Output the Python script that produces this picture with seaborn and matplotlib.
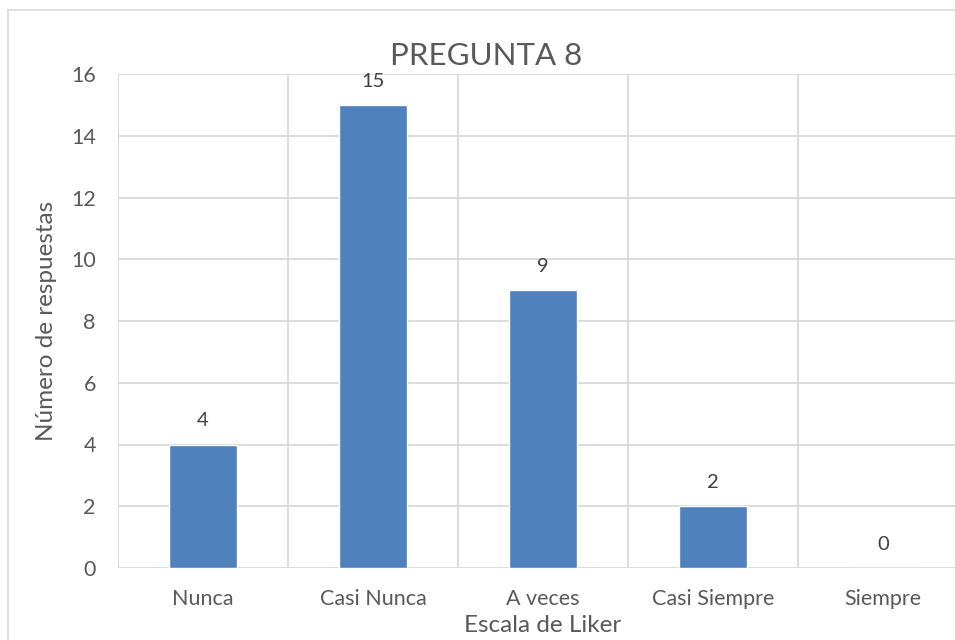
import matplotlib
matplotlib.use("Agg")
import matplotlib.pyplot as plt
from matplotlib.patches import Rectangle
import seaborn as sns
import pandas as pd

categorias = ["Nunca", "Casi Nunca", "A veces", "Casi Siempre", "Siempre"]
respuestas = [4, 15, 9, 2, 0]
y_ticks = [0, 2, 4, 6, 8, 10, 12, 14, 16]

titulo = "PREGUNTA 8"
etiqueta_x = "Escala de Liker"
etiqueta_y = "Número de respuestas"

sns.set_theme(style="white")
plt.rcParams["font.family"] = ["Lato", "DejaVu Sans"]

texto = "#595959"
rejilla = "#d9d9d9"
azul = "#4f81bd"

df = pd.DataFrame({"categoria": categorias, "respuestas": respuestas})

fig = plt.figure(figsize=(9.55, 6.4), dpi=100)
fig.patch.set_facecolor("white")

# chart-area frame
fig.patches.append(Rectangle((8 / 955, -0.1), 1.2, 1.1 - 10 / 640,
                             transform=fig.transFigure, fill=False,
                             edgecolor=rejilla, linewidth=1.2))

ax = fig.add_axes([118 / 955, 72 / 640, 850 / 955, 494 / 640])
sns.barplot(data=df, x="categoria", y="respuestas", color=azul,
            width=0.4, saturation=1, ax=ax)

ax.set_ylim(0, 16)
ax.set_xlim(-0.5, len(categorias) - 0.5)
ax.set_yticks(y_ticks)
ax.set_yticklabels([str(t) for t in y_ticks])

# horizontal and vertical gridlines
for t in y_ticks:
    ax.axhline(t, color=rejilla, linewidth=1.3, zorder=0)
for i in range(len(categorias) + 1):
    ax.axvline(i - 0.5, color=rejilla, linewidth=1.3, zorder=0)

for s in ax.spines.values():
    s.set_visible(False)

ax.tick_params(axis="both", length=0, labelsize=15.5, colors=texto)
ax.tick_params(axis="x", pad=15)
ax.tick_params(axis="y", pad=16)

for i, v in enumerate(respuestas):
    ax.annotate(str(v), (i, v), xytext=(0, 11), textcoords="offset points",
                ha="center", va="bottom", fontsize=14.5, color="#404040")

ax.set_xlabel(etiqueta_x, fontsize=17.5, color=texto, va="center")
ax.set_ylabel(etiqueta_y, fontsize=17.5, color=texto, va="center")
ax.xaxis.set_label_coords(0.5 + (543 - 543) / 850, -(625 - 568) / 494)
ax.yaxis.set_label_coords((47 - 118) / 850, 0.5)

fig.text(486 / 955, 1 - 56 / 640, titulo, ha="center", va="center",
         fontsize=22.5, color=texto)

fig.savefig("out.png", dpi=100, facecolor="white")
